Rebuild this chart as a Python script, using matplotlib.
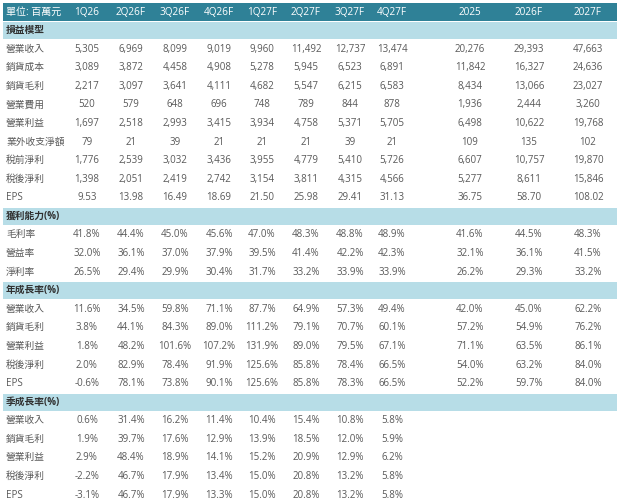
import matplotlib.pyplot as plt
from matplotlib.patches import Rectangle

plt.rcParams['font.family'] = ['Open Sans', 'Noto Sans CJK TC', 'DejaVu Sans']

columns = ['1Q26', '2Q26F', '3Q26F', '4Q26F', '1Q27F', '2Q27F', '3Q27F', '4Q27F', '2025', '2026F', '2027F']
unit_label = '單位: 百萬元'

pl_labels = ['營業收入', '銷貨成本', '銷貨毛利', '營業費用', '營業利益', '業外收支淨額', '稅前淨利', '稅後淨利', 'EPS']
pl_values = [
    [5305, 6969, 8099, 9019, 9960, 11492, 12737, 13474, 20276, 29393, 47663],
    [3089, 3872, 4458, 4908, 5278, 5945, 6523, 6891, 11842, 16327, 24636],
    [2217, 3097, 3641, 4111, 4682, 5547, 6215, 6583, 8434, 13066, 23027],
    [520, 579, 648, 696, 748, 789, 844, 878, 1936, 2444, 3260],
    [1697, 2518, 2993, 3415, 3934, 4758, 5371, 5705, 6498, 10622, 19768],
    [79, 21, 39, 21, 21, 21, 39, 21, 109, 135, 102],
    [1776, 2539, 3032, 3436, 3955, 4779, 5410, 5726, 6607, 10757, 19870],
    [1398, 2051, 2419, 2742, 3154, 3811, 4315, 4566, 5277, 8611, 15846],
    [9.53, 13.98, 16.49, 18.69, 21.50, 25.98, 29.41, 31.13, 36.75, 58.70, 108.02],
]

margin_labels = ['毛利率', '營益率', '淨利率']
margin_values = [
    [41.8, 44.4, 45.0, 45.6, 47.0, 48.3, 48.8, 48.9, 41.6, 44.5, 48.3],
    [32.0, 36.1, 37.0, 37.9, 39.5, 41.4, 42.2, 42.3, 32.1, 36.1, 41.5],
    [26.5, 29.4, 29.9, 30.4, 31.7, 33.2, 33.9, 33.9, 26.2, 29.3, 33.2],
]

yoy_labels = ['營業收入', '銷貨毛利', '營業利益', '稅後淨利', 'EPS']
yoy_values = [
    [11.6, 34.5, 59.8, 71.1, 87.7, 64.9, 57.3, 49.4, 42.0, 45.0, 62.2],
    [3.8, 44.1, 84.3, 89.0, 111.2, 79.1, 70.7, 60.1, 57.2, 54.9, 76.2],
    [1.8, 48.2, 101.6, 107.2, 131.9, 89.0, 79.5, 67.1, 71.1, 63.5, 86.1],
    [2.0, 82.9, 78.4, 91.9, 125.6, 85.8, 78.4, 66.5, 54.0, 63.2, 84.0],
    [-0.6, 78.1, 73.8, 90.1, 125.6, 85.8, 78.3, 66.5, 52.2, 59.7, 84.0],
]

qoq_labels = ['營業收入', '銷貨毛利', '營業利益', '稅後淨利', 'EPS']
qoq_values = [
    [0.6, 31.4, 16.2, 11.4, 10.4, 15.4, 10.8, 5.8],
    [1.9, 39.7, 17.6, 12.9, 13.9, 18.5, 12.0, 5.9],
    [2.9, 48.4, 18.9, 14.1, 15.2, 20.9, 12.9, 6.2],
    [-2.2, 46.7, 17.9, 13.4, 15.0, 20.8, 13.2, 5.8],
    [-3.1, 46.7, 17.9, 13.3, 15.0, 20.8, 13.2, 5.8],
]

sections = [
    ('損益模型', pl_labels, pl_values, 'num'),
    ('獲利能力(%)', margin_labels, margin_values, 'pct'),
    ('年成長率(%)', yoy_labels, yoy_values, 'pct'),
    ('季成長率(%)', qoq_labels, qoq_values, 'pct'),
]

# layout (pixels across, rows down)
col_x = [87, 131, 175, 219, 262, 306, 350, 392, 470, 529, 588]
left, right = 3, 617
header_color = '#2f8197'
band_color = '#b7dde7'
text_color = '#595959'


def fmt(v, label, kind):
    if kind == 'pct':
        return f'{v:.1f}%'
    if label == 'EPS':
        return f'{v:.2f}'
    return f'{v:,.0f}'


fig = plt.figure(figsize=(6.2, 5.01), dpi=100)
ax = fig.add_axes([0, 0, 1, 1])
ax.set_xlim(0, 620)
ax.set_ylim(26.82, -0.146)
ax.axis('off')

# header
ax.add_patch(Rectangle((left, 0), right - left, 0.97, color=header_color, lw=0))
ax.text(6, 0.5, unit_label, color='white', fontsize=7.2, va='center', ha='left')
for x, c in zip(col_x, columns):
    ax.text(x, 0.5, c, color='white', fontsize=7.2, va='center', ha='center')

row = 1
for title, labels, values, kind in sections:
    ax.add_patch(Rectangle((left, row + 0.04), right - left, 0.93, color=band_color, lw=0))
    ax.text(6, row + 0.5, title, color='#303030', fontsize=7, va='center', ha='left', fontweight='bold')
    row += 1
    for lab, vals in zip(labels, values):
        ax.text(6, row + 0.5, lab, color=text_color, fontsize=7, va='center', ha='left')
        for x, v in zip(col_x, vals):
            ax.text(x, row + 0.5, fmt(v, lab, kind), color=text_color, fontsize=7, va='center', ha='center')
        row += 1

fig.savefig('out.png', dpi=100, facecolor='white')
